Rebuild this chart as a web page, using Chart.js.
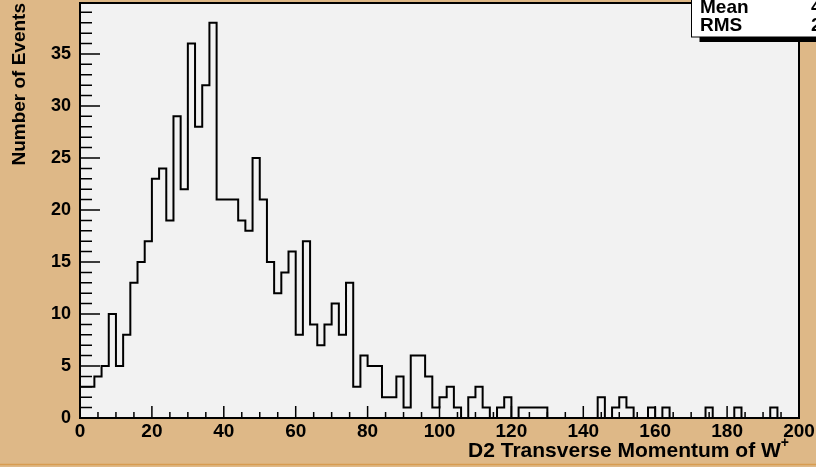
<!DOCTYPE html>
<html lang="en">
  <head>
    <meta charset="UTF-8" />
    <title>D2 Transverse Momentum of W+</title>
    <script src="https://cdn.jsdelivr.net/npm/chart.js"></script>
    <style>
      html, body { margin: 0; padding: 0; background: #deb887; overflow: hidden; }
      #ptw { display: block; }
    </style>
  </head>
  <body>
    <canvas id="ptw" width="816" height="467"></canvas>
    <script>
      // histogram: 100 bins of width 2 from 0 to 200
      const binWidth = 2;
      const counts = [
        3, 3, 4, 5, 10, 5, 8, 13, 15, 17,
        23, 24, 19, 29, 22, 36, 28, 32, 38, 21,
        21, 21, 19, 18, 25, 21, 15, 12, 14, 16,
        8, 17, 9, 7, 9, 11, 8, 13, 3, 6,
        5, 5, 2, 2, 4, 1, 6, 6, 4, 1,
        2, 3, 1, 0, 2, 3, 1, 0, 1, 2,
        0, 1, 1, 1, 1, 0, 0, 0, 0, 0,
        0, 0, 2, 0, 1, 2, 1, 0, 0, 1,
        0, 1, 0, 0, 0, 0, 0, 1, 0, 0,
        0, 1, 0, 0, 0, 0, 1, 0, 0, 0
      ];
      const xRange = [0, 200];
      const yRange = [0, 39.9];
      const xLabelStep = 20;
      const yLabelStep = 5;
      const xTitle = "D2 Transverse Momentum of W";
      const xTitleSup = "+";
      const yTitle = "Number of Events";

      const edges = counts.map((c, i) => i * binWidth);

      // step outline: start on the axis, one point per low edge, close at the top edge
      const points = [{ x: edges[0], y: 0 }]
        .concat(counts.map((c, i) => ({ x: edges[i], y: c })))
        .concat([{ x: xRange[1], y: 0 }]);

      // stats shown in the box
      let n = 0, sx = 0, sxx = 0;
      counts.forEach((c, i) => {
        const mid = edges[i] + binWidth / 2;
        n += c; sx += c * mid; sxx += c * mid * mid;
      });
      const mean = sx / n;
      const rms = Math.sqrt(sxx / n - mean * mean);

      const FONT = "'Liberation Sans', Arial, Helvetica, sans-serif";

      const rootFrame = {
        id: "rootFrame",
        beforeDraw(chart) {
          const { ctx, chartArea: a, width, height } = chart;
          ctx.save();
          ctx.fillStyle = "#deb887";
          ctx.fillRect(0, 0, width, height);
          ctx.strokeStyle = "#d89c50";
          ctx.lineWidth = 1.5;
          ctx.beginPath();
          ctx.moveTo(0, height - 2.5);
          ctx.lineTo(width, height - 2.5);
          ctx.stroke();
          ctx.fillStyle = "#f2f2f2";
          ctx.fillRect(a.left, a.top, a.right - a.left, a.bottom - a.top);
          ctx.restore();
        },
        afterDatasetsDraw(chart) {
          const { ctx, chartArea: a, scales: { x, y } } = chart;
          ctx.save();
          ctx.strokeStyle = "#000";
          ctx.lineWidth = 1.5;
          ctx.beginPath();
          // inward ticks on the x axis
          for (let v = xRange[0]; v <= xRange[1]; v += 5) {
            const px = x.getPixelForValue(v);
            const len = v % xLabelStep === 0 ? 12 : 6;
            ctx.moveTo(px, a.bottom);
            ctx.lineTo(px, a.bottom - len);
          }
          // inward ticks on the y axis
          for (let v = 0; v <= yRange[1]; v += 1) {
            const py = y.getPixelForValue(v);
            const len = v % yLabelStep === 0 ? 20 : 12;
            ctx.moveTo(a.left, py);
            ctx.lineTo(a.left + len, py);
          }
          ctx.stroke();
          ctx.lineWidth = 2;
          ctx.strokeRect(a.left, a.top, a.right - a.left, a.bottom - a.top);

          // x axis title, right aligned, with superscript
          ctx.fillStyle = "#000";
          ctx.textBaseline = "alphabetic";
          ctx.font = "bold 14px " + FONT;
          const supW = ctx.measureText(xTitleSup).width;
          ctx.font = "bold 21px " + FONT;
          ctx.textAlign = "right";
          const tx = a.right - 10 - supW;
          ctx.fillText(xTitle, tx, 457);
          ctx.font = "bold 14px " + FONT;
          ctx.textAlign = "left";
          ctx.fillText(xTitleSup, tx, 447);
          ctx.restore();
        },
        afterDraw(chart) {
          const { ctx, width } = chart;
          // statistics box in the top right corner
          ctx.save();
          const bx = 691.5, by = -30, bb = 37;
          ctx.fillStyle = "#000";
          ctx.fillRect(bx + 8, by + 5, width, bb - by);
          ctx.fillStyle = "#fff";
          ctx.fillRect(bx, by, width, bb - by);
          ctx.strokeStyle = "#000";
          ctx.lineWidth = 1;
          ctx.strokeRect(bx, by, width, bb - by);
          ctx.fillStyle = "#000";
          ctx.font = "bold 19px " + FONT;
          ctx.textAlign = "left";
          ctx.textBaseline = "alphabetic";
          ctx.fillText("Mean", 700, 13);
          ctx.fillText("RMS", 700, 31);
          ctx.fillText(mean.toFixed(2), 811, 13);
          ctx.fillText(rms.toFixed(2), 811, 31);
          ctx.restore();
        }
      };

      new Chart(document.getElementById("ptw"), {
        type: "line",
        data: {
          datasets: [{
            data: points,
            stepped: "before",
            borderColor: "#000",
            borderWidth: 2,
            pointRadius: 0,
            fill: false
          }]
        },
        options: {
          responsive: false,
          animation: false,
          devicePixelRatio: 1,
          layout: { padding: { left: 0, top: 3, right: 17, bottom: 0 } },
          plugins: { legend: { display: false }, tooltip: { enabled: false } },
          scales: {
            x: {
              type: "linear",
              min: xRange[0],
              max: xRange[1],
              grid: { display: false, drawTicks: false },
              border: { display: false },
              ticks: {
                stepSize: xLabelStep,
                maxRotation: 0,
                autoSkip: false,
                padding: 2,
                color: "#000",
                font: { family: FONT, size: 19, weight: "bold" }
              },
              afterFit(scale) {
                scale.height = 49;
                scale.paddingLeft = 0;
                scale.paddingRight = 0;
              }
            },
            y: {
              min: yRange[0],
              max: yRange[1],
              grid: { display: false, drawTicks: false },
              border: { display: false },
              ticks: {
                stepSize: yLabelStep,
                includeBounds: false,
                padding: 9,
                color: "#000",
                font: { family: FONT, size: 18, weight: "bold" }
              },
              title: {
                display: true,
                text: yTitle,
                align: "end",
                color: "#000",
                padding: { top: 8, bottom: 0 },
                font: { family: FONT, size: 19, weight: "bold" }
              },
              afterFit(scale) {
                scale.width = 80;
                scale.paddingTop = 0;
                scale.paddingBottom = 0;
              }
            }
          }
        },
        plugins: [rootFrame]
      });
    </script>
  </body>
</html>
